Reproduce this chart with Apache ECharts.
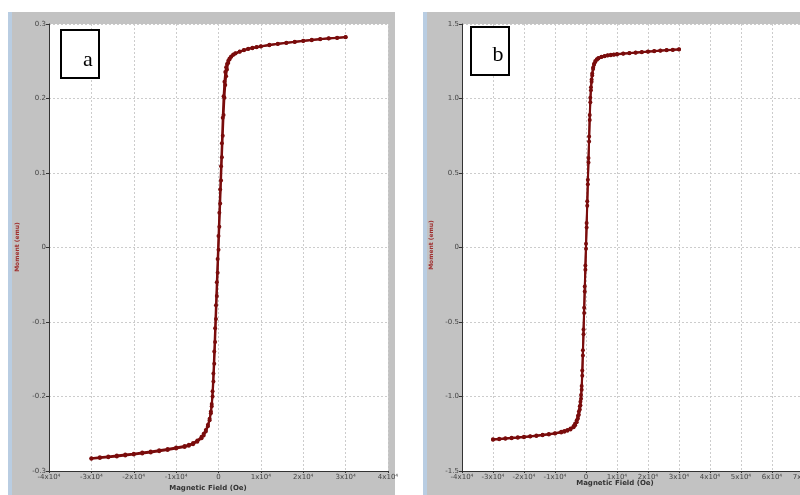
<!DOCTYPE html>
<html>
<head>
<meta charset="utf-8">
<script src="https://cdn.jsdelivr.net/npm/echarts@6/dist/echarts.min.js"></script>
<style>
  html, body { margin: 0; padding: 0; background: #fff; }
  #chart { width: 800px; height: 495px; }
</style>
</head>
<body>
<div id="chart"></div>
<script>
// panel a : [field (Oe), moment (emu)]
const branchDownA = [
  [30000, 0.2822], [28000, 0.2813], [26000, 0.2804], [24000, 0.2794], [22000, 0.2783],
  [20000, 0.2771], [18000, 0.2759], [16000, 0.2746], [14000, 0.2732], [12000, 0.2716],
  [10000, 0.2698], [9000, 0.2688], [8000, 0.2676], [7000, 0.2663], [6000, 0.2647],
  [5000, 0.2628], [4000, 0.2603], [3500, 0.2586], [3000, 0.2564], [2600, 0.2538],
  [2300, 0.2508], [2000, 0.2464], [1800, 0.2418], [1600, 0.2356], [1400, 0.2225],
  [1200, 0.2030], [1000, 0.1740], [800, 0.1400], [600, 0.1090], [400, 0.0780],
  [200, 0.0465], [0, 0.0155], [-200, -0.0155], [-400, -0.0465], [-600, -0.0775],
  [-800, -0.1085], [-1000, -0.1395], [-1200, -0.1690], [-1400, -0.1930], [-1600, -0.2100],
  [-1800, -0.2200], [-2100, -0.2300], [-2500, -0.2380], [-3000, -0.2450], [-3500, -0.2500],
  [-4000, -0.2540], [-5000, -0.2590], [-6000, -0.2625], [-7000, -0.2648], [-8000, -0.2665],
  [-10000, -0.2685], [-12000, -0.2705], [-14000, -0.2722], [-16000, -0.2738], [-18000, -0.2753],
  [-20000, -0.2767], [-22000, -0.2780], [-24000, -0.2793], [-26000, -0.2805], [-28000, -0.2817],
  [-30000, -0.2830]
];
const branchUpA = [
  [-30000, -0.2835], [-28000, -0.2826], [-26000, -0.2816], [-24000, -0.2805], [-22000, -0.2793],
  [-20000, -0.2780], [-18000, -0.2766], [-16000, -0.2751], [-14000, -0.2735], [-12000, -0.2718],
  [-10000, -0.2698], [-8000, -0.2678], [-7000, -0.2662], [-6000, -0.2640], [-5000, -0.2607],
  [-4000, -0.2560], [-3500, -0.2522], [-3000, -0.2470], [-2500, -0.2400], [-2100, -0.2320],
  [-1800, -0.2225], [-1600, -0.2130], [-1400, -0.2000], [-1200, -0.1800], [-1000, -0.1560],
  [-800, -0.1270], [-600, -0.0960], [-400, -0.0650], [-200, -0.0340], [0, -0.0030],
  [200, 0.0280], [400, 0.0590], [600, 0.0900], [800, 0.1210], [1000, 0.1500],
  [1200, 0.1780], [1400, 0.2010], [1600, 0.2180], [1800, 0.2300], [2000, 0.2390],
  [2300, 0.2475], [2600, 0.2525], [3000, 0.2562], [3500, 0.2590], [4000, 0.2607],
  [5000, 0.2632], [6000, 0.2652], [7000, 0.2668], [8000, 0.2681], [9000, 0.2692],
  [10000, 0.2702], [12000, 0.2720], [14000, 0.2736], [16000, 0.2750], [18000, 0.2763],
  [20000, 0.2775], [22000, 0.2787], [24000, 0.2798], [26000, 0.2808], [28000, 0.2817],
  [30000, 0.2826]
];

// panel b
const branchDownB = [
  [30000, 1.331], [28000, 1.328], [26000, 1.325], [24000, 1.322], [22000, 1.318],
  [20000, 1.315], [18000, 1.312], [16000, 1.309], [14000, 1.306], [12000, 1.302],
  [10000, 1.298], [9000, 1.296], [8000, 1.293], [7000, 1.290], [6000, 1.286],
  [5000, 1.281], [4000, 1.272], [3500, 1.264], [3000, 1.251], [2600, 1.234],
  [2300, 1.208], [2000, 1.168], [1800, 1.128], [1600, 1.075], [1400, 1.005],
  [1200, 0.890], [1000, 0.745], [800, 0.600], [600, 0.455], [400, 0.310],
  [200, 0.165], [0, 0.025], [-200, -0.120], [-400, -0.262], [-600, -0.405],
  [-800, -0.550], [-1000, -0.690], [-1200, -0.825], [-1400, -0.930], [-1600, -0.990],
  [-1800, -1.035], [-2000, -1.065], [-2300, -1.100], [-2600, -1.130], [-3000, -1.160],
  [-3500, -1.182], [-4000, -1.198], [-5000, -1.215], [-6000, -1.225], [-7000, -1.232],
  [-8000, -1.237], [-10000, -1.246], [-12000, -1.252], [-14000, -1.257], [-16000, -1.262],
  [-18000, -1.266], [-20000, -1.270], [-22000, -1.274], [-24000, -1.277], [-26000, -1.280],
  [-28000, -1.284], [-30000, -1.287]
];
const branchUpB = [
  [-30000, -1.290], [-28000, -1.287], [-26000, -1.283], [-24000, -1.280], [-22000, -1.277],
  [-20000, -1.273], [-18000, -1.269], [-16000, -1.265], [-14000, -1.260], [-12000, -1.255],
  [-10000, -1.249], [-8000, -1.241], [-7000, -1.236], [-6000, -1.230], [-5000, -1.221],
  [-4000, -1.206], [-3500, -1.193], [-3000, -1.173], [-2600, -1.148], [-2300, -1.122],
  [-2000, -1.088], [-1800, -1.058], [-1600, -1.015], [-1400, -0.955], [-1200, -0.860],
  [-1000, -0.725], [-800, -0.582], [-600, -0.440], [-400, -0.295], [-200, -0.150],
  [0, -0.008], [200, 0.135], [400, 0.280], [600, 0.425], [800, 0.570],
  [1000, 0.712], [1200, 0.855], [1400, 0.975], [1600, 1.055], [1800, 1.112],
  [2000, 1.155], [2300, 1.198], [2600, 1.226], [3000, 1.245], [3500, 1.260],
  [4000, 1.269], [5000, 1.278], [6000, 1.284], [7000, 1.288], [8000, 1.291],
  [9000, 1.294], [10000, 1.296], [12000, 1.300], [14000, 1.304], [16000, 1.307],
  [18000, 1.311], [20000, 1.314], [22000, 1.317], [24000, 1.320], [26000, 1.323],
  [28000, 1.326], [30000, 1.329]
];

// tick labels
const xTicksA = ['-4x10⁴', '-3x10⁴', '-2x10⁴', '-1x10⁴', '0', '1x10⁴', '2x10⁴', '3x10⁴', '4x10⁴'];
const xTicksB = ['-4x10⁴', '-3x10⁴', '-2x10⁴', '-1x10⁴', '0', '1x10⁴', '2x10⁴', '3x10⁴', '4x10⁴', '5x10⁴', '6x10⁴', '7x10⁴'];
const yTicksA = ['-0.3', '-0.2', '-0.1', '0', '0.1', '0.2', '0.3'];
const yTicksB = ['-1.5', '-1.0', '-0.5', '0', '0.5', '1.0', '1.5'];

const lineColor = '#7a0c0c';
const gray = '#c2c2c2';
const strip = '#b9cde2';

const chart = echarts.init(document.getElementById('chart'));

function xAxisOf(gridIndex, max, ticks) {
  return {
    type: 'value',
    gridIndex: gridIndex,
    min: -40000,
    max: max,
    interval: 10000,
    axisLine: {show: true, onZero: false, lineStyle: {color: '#333', width: 1}},
    axisTick: {show: true, length: 2, lineStyle: {color: '#333'}},
    axisLabel: {
      color: '#444', fontSize: 7, margin: 3, fontFamily: 'DejaVu Sans',
      showMinLabel: true, showMaxLabel: true,
      formatter: function (v) { return ticks[Math.round((v + 40000) / 10000)]; }
    },
    splitLine: {show: true, lineStyle: {color: '#cccccc', type: [2, 2], width: 1}}
  };
}

function yAxisOf(gridIndex, lim, step, ticks) {
  return {
    type: 'value',
    gridIndex: gridIndex,
    min: -lim,
    max: lim,
    interval: step,
    axisLine: {show: true, onZero: false, lineStyle: {color: '#333', width: 1}},
    axisTick: {show: true, length: 3, lineStyle: {color: '#333'}},
    axisLabel: {
      color: '#444', fontSize: 7, margin: 3, fontFamily: 'DejaVu Sans',
      showMinLabel: true, showMaxLabel: true,
      formatter: function (v) { return ticks[Math.round((v + lim) / step)]; }
    },
    splitLine: {show: true, lineStyle: {color: '#cccccc', type: [2, 2], width: 1}}
  };
}

function loopSeries(data, xi) {
  return {
    type: 'line',
    xAxisIndex: xi,
    yAxisIndex: xi,
    data: data,
    showSymbol: true,
    symbol: 'circle',
    symbolSize: 4,
    itemStyle: {color: lineColor},
    lineStyle: {color: lineColor, width: 2},
    clip: false
  };
}

const option = {
  animation: false,
  backgroundColor: '#fff',
  graphic: [
    {type: 'rect', z: -10, shape: {x: 8, y: 12, width: 387, height: 483}, style: {fill: gray}},
    {type: 'rect', z: -9, shape: {x: 8, y: 12, width: 4, height: 483}, style: {fill: strip}},
    {type: 'rect', z: -10, shape: {x: 423, y: 12, width: 377, height: 483}, style: {fill: gray}},
    {type: 'rect', z: -9, shape: {x: 423, y: 12, width: 4, height: 483}, style: {fill: strip}},
    {type: 'text', z: 5, x: 17, y: 247, rotation: Math.PI / 2, style: {
      text: 'Moment (emu)', fill: '#a03030', font: 'bold 6px "DejaVu Sans"', align: 'center', verticalAlign: 'middle'}},
    {type: 'text', z: 5, x: 431, y: 245, rotation: Math.PI / 2, style: {
      text: 'Moment (emu)', fill: '#a03030', font: 'bold 6px "DejaVu Sans"', align: 'center', verticalAlign: 'middle'}},
    {type: 'text', z: 5, x: 208, y: 488, style: {
      text: 'Magnetic Field (Oe)', fill: '#333', font: 'bold 7px "DejaVu Sans"', align: 'center', verticalAlign: 'middle'}},
    {type: 'text', z: 5, x: 615, y: 483, style: {
      text: 'Magnetic Field (Oe)', fill: '#333', font: 'bold 7px "DejaVu Sans"', align: 'center', verticalAlign: 'middle'}},
    {type: 'rect', z: 20, shape: {x: 61, y: 30, width: 38, height: 48}, style: {fill: '#fff', stroke: '#000', lineWidth: 2}},
    {type: 'text', z: 21, x: 88, y: 60, style: {
      text: 'a', fill: '#000', font: '22px "Liberation Serif"', align: 'center', verticalAlign: 'middle'}},
    {type: 'rect', z: 20, shape: {x: 471, y: 27, width: 38, height: 48}, style: {fill: '#fff', stroke: '#000', lineWidth: 2}},
    {type: 'text', z: 21, x: 498, y: 55, style: {
      text: 'b', fill: '#000', font: '22px "Liberation Serif"', align: 'center', verticalAlign: 'middle'}}
  ],
  grid: [
    {left: 49, top: 24, width: 339, height: 447, show: true, backgroundColor: '#fff', borderWidth: 0,
      outerBoundsMode: 'none'},
    {left: 462, top: 24, width: 341, height: 447, show: true, backgroundColor: '#fff', borderWidth: 0,
      outerBoundsMode: 'none'}
  ],
  xAxis: [
    xAxisOf(0, 40000, xTicksA),
    xAxisOf(1, 70000, xTicksB)
  ],
  yAxis: [
    yAxisOf(0, 0.3, 0.1, yTicksA),
    yAxisOf(1, 1.5, 0.5, yTicksB)
  ],
  series: [
    loopSeries(branchDownA, 0),
    loopSeries(branchUpA, 0),
    loopSeries(branchDownB, 1),
    loopSeries(branchUpB, 1)
  ]
};

chart.setOption(option);
</script>
</body>
</html>
